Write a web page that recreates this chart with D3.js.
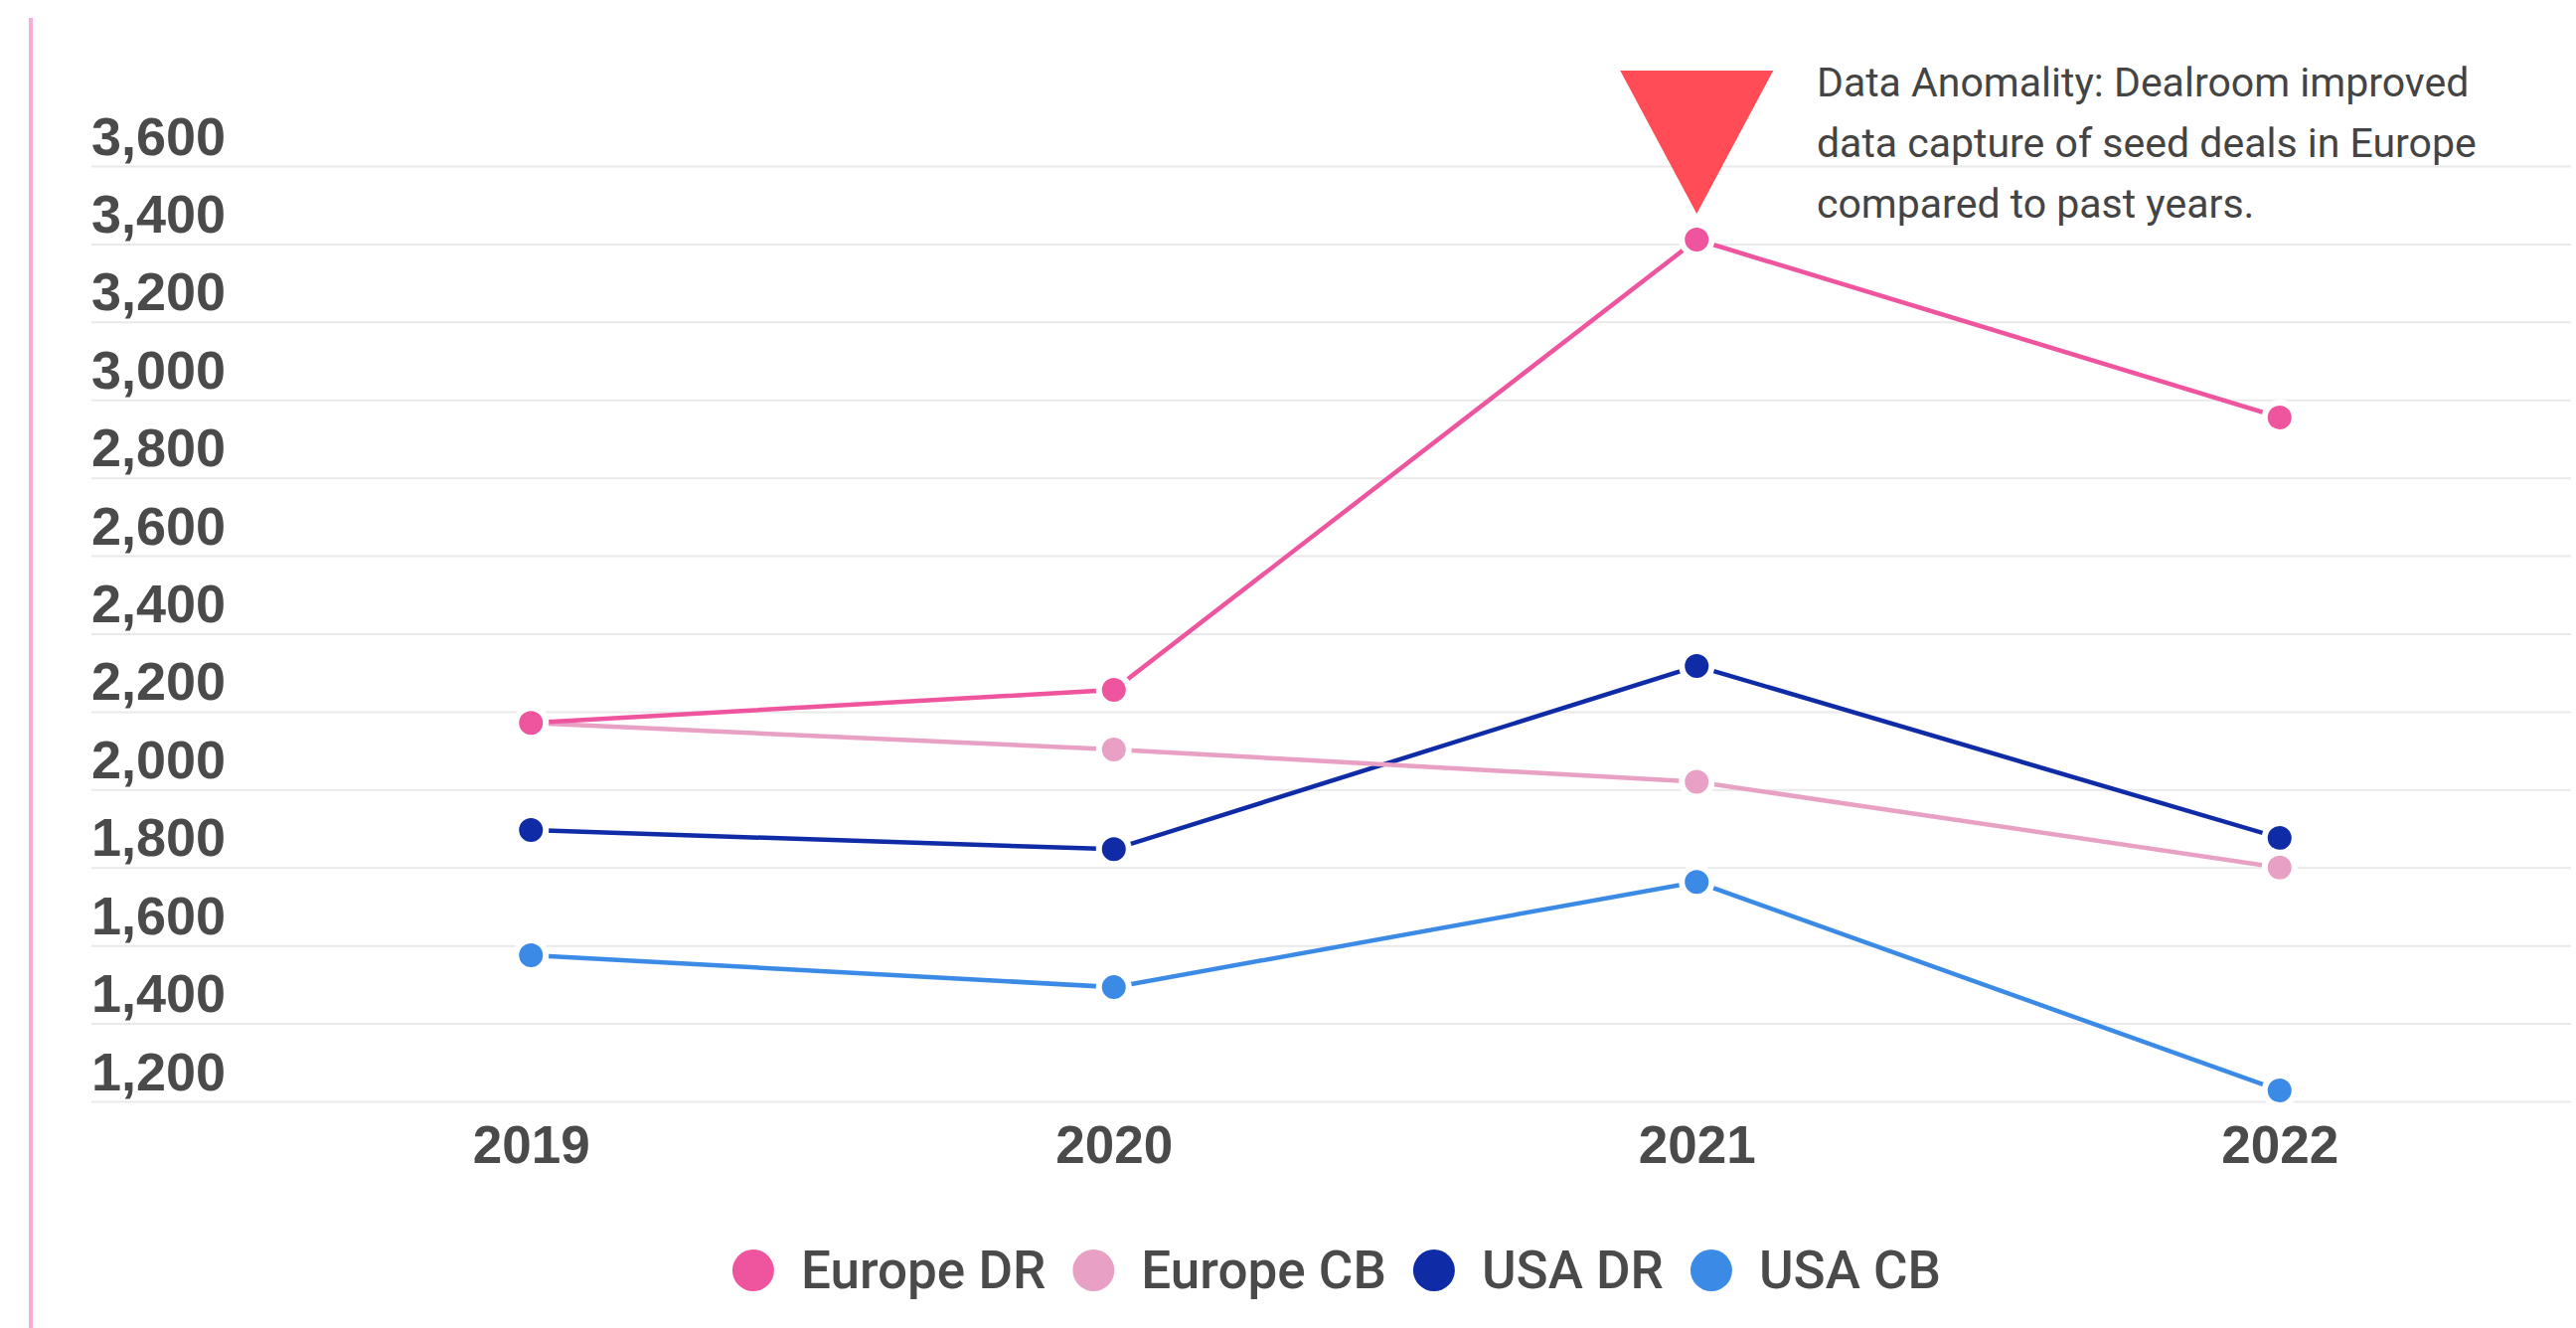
<!DOCTYPE html>
<html>

<head>
    <style>
        body {
            margin: 0;
            background: #ffffff;
        }

        #chart svg {
            display: block;
        }
    </style>
</head>

<body>
    <script src="https://d3js.org/d3.v7.min.js"></script>
    <div id="chart"></div>
    <script>
        const width = 2592
        const height = 1336

        const years = ["2019", "2020", "2021", "2022"]
        const seriesNames = ["Europe DR", "Europe CB", "USA DR", "USA CB"]
        const europeDR = [2171, 2256, 3411, 2955]
        const europeCB = [2171, 2103, 2020, 1800]
        const usaDR = [1896, 1847, 2317, 1876]
        const usaCB = [1575, 1493, 1763, 1228]
        const yTicks = [1200, 1400, 1600, 1800, 2000, 2200, 2400, 2600, 2800, 3000, 3200, 3400, 3600]
        const noteLines = [
            "Data Anomality: Dealroom improved",
            "data capture of seed deals in Europe",
            "compared to past years."
        ]

        const colors = ["#ef559f", "#e8a1c4", "#0f2ba6", "#3b8ae6"]
        const allSeries = [europeDR, europeCB, usaDR, usaCB]

        const svg = d3.select("#chart").append("svg")
            .attr("width", width)
            .attr("height", height)

        // pink rule on the left edge
        svg.append("line")
            .attr("x1", 31).attr("x2", 31)
            .attr("y1", 18).attr("y2", height)
            .attr("stroke", "#f7aed4")
            .attr("stroke-width", 4)

        const xScale = d3.scalePoint()
            .domain(years)
            .range([241, 2587])
            .padding(0.5)

        const yScale = d3.scaleLinear()
            .domain([1200, 3600])
            .range([1108, 167])

        // gridlines + y labels
        const yAxis = d3.axisLeft(yScale)
            .tickValues(yTicks)
            .tickSize(-(2587 - 92))
            .tickFormat(d3.format(","))

        const yG = svg.append("g")
            .attr("id", "y-axis")
            .attr("transform", "translate(92,0)")
            .call(yAxis)

        yG.select(".domain").remove()
        yG.selectAll(".tick line")
            .attr("stroke", "#e9e9e9")
            .attr("stroke-width", 2)
        yG.selectAll(".tick text")
            .attr("x", 0)
            .attr("dy", -12)
            .attr("text-anchor", "start")
            .attr("fill", "#4a4a4a")
            .style("font-family", "'Liberation Sans', Arial, sans-serif")
            .style("font-weight", "bold")
            .style("font-size", "54px")

        const xAxis = d3.axisBottom(xScale).tickSize(0)
        const xG = svg.append("g")
            .attr("id", "x-axis")
            .attr("transform", "translate(0,1108)")
            .call(xAxis)

        xG.select(".domain").remove()
        xG.selectAll(".tick text")
            .attr("y", 62)
            .attr("dy", 0)
            .attr("fill", "#4a4a4a")
            .style("font-family", "'Liberation Sans', Arial, sans-serif")
            .style("font-weight", "bold")
            .style("font-size", "53px")

        const line = d3.line()
            .x((d, i) => xScale(years[i]))
            .y(d => yScale(d))

        // draw from the last series to the first so Europe DR is on top
        const drawOrder = [3, 2, 1, 0]
        drawOrder.forEach(k => {
            const g = svg.append("g").attr("class", "series")
            g.append("path")
                .datum(allSeries[k])
                .attr("d", line)
                .attr("fill", "none")
                .attr("stroke", colors[k])
                .attr("stroke-width", 4.5)
            g.selectAll("circle")
                .data(allSeries[k])
                .enter()
                .append("circle")
                .attr("cx", (d, i) => xScale(years[i]))
                .attr("cy", d => yScale(d))
                .attr("r", 15)
                .attr("fill", colors[k])
                .attr("stroke", "#ffffff")
                .attr("stroke-width", 6)
        })

        // anomaly marker over Europe DR 2021
        const ax = xScale("2021")
        const ay = yScale(europeDR[2])
        svg.append("path")
            .attr("d", "M" + (ax - 77) + "," + (ay - 170) + "L" + (ax + 77) + "," + (ay - 170) + "L" + ax + "," + (ay - 26) + "Z")
            .attr("fill", "#ff4c57")

        const note = svg.append("text")
            .attr("x", 1828)
            .attr("y", 97)
            .attr("fill", "#444444")
            .style("font-family", "Roboto, sans-serif")
            .style("font-size", "41px")
        note.selectAll("tspan")
            .data(noteLines)
            .enter()
            .append("tspan")
            .attr("x", 1828)
            .attr("dy", (d, i) => i === 0 ? 0 : 61)
            .text(d => d)

        // legend
        const legend = svg.append("g").attr("id", "legend")
        const items = seriesNames.map((name, k) => {
            const item = legend.append("g")
            item.append("circle")
                .attr("r", 21)
                .attr("cx", 0)
                .attr("cy", 0)
                .attr("fill", colors[k])
            const t = item.append("text")
                .text(name)
                .attr("x", 48)
                .attr("y", 18)
                .attr("fill", "#4a4a4a")
                .style("font-family", "Roboto, sans-serif")
                .style("font-weight", 500)
                .style("font-size", "53px")
            return { item, w: t.node().getComputedTextLength() }
        })

        let cursor = 0
        const positions = items.map(d => {
            const p = cursor
            cursor += 48 + d.w + 48
            return p
        })
        const total = cursor - 48 + 21
        const startX = 1345 - total / 2 + 21
        items.forEach((d, i) => {
            d.item.attr("transform", "translate(" + (startX + positions[i]) + ",1278)")
        })
    </script>
</body>

</html>
